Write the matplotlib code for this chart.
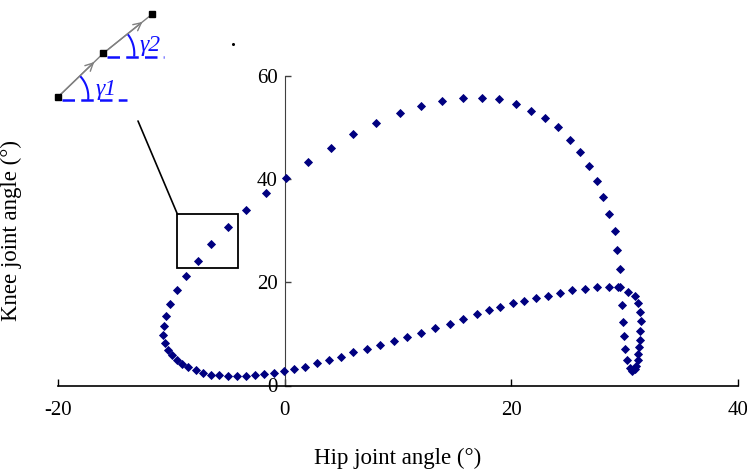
import numpy as np
import matplotlib
matplotlib.use("Agg")
import matplotlib.pyplot as plt
from matplotlib.patches import Rectangle, ConnectionPatch

plt.rcParams['font.family'] = ['Liberation Serif', 'DejaVu Serif']
plt.rcParams['axes.unicode_minus'] = False

# hip / knee joint angles over one gait cycle (deg)
hip_angle = [0.16, 2.09, 4.06, 6.05, 8.05, 10.16, 12.07, 13.88, 15.73, 17.41,
             18.91, 20.40, 21.74, 22.94, 24.08, 25.17, 26.05, 26.87, 27.55, 28.10,
             28.63, 29.13, 29.36, 29.57, 29.62, 29.77, 29.86, 29.92, 30.01, 30.24,
             30.45, 30.65, 30.87, 31.03, 31.18, 31.22, 31.29, 31.31, 31.35, 31.40,
             31.38, 31.22, 30.87, 30.30, 29.45, 28.58, 27.60, 26.49, 25.31, 24.26,
             23.26, 22.15, 21.13, 20.12, 19.04, 18.01, 16.93, 15.73, 14.56, 13.24,
             12.01, 10.80, 9.63, 8.43, 7.23, 6.05, 4.94, 3.91, 2.88, 1.83,
             0.85, -0.04, -0.92, -1.80, -2.66, -3.41, -4.24, -5.00, -5.82, -6.49,
             -7.23, -7.81, -8.49, -9.04, -9.48, -9.96, -10.33, -10.60, -10.71, -10.69,
             -10.51, -10.10, -9.48, -8.69, -7.67, -6.49, -4.97, -3.41, -1.63]
knee_angle = [40.31, 43.36, 46.07, 48.73, 50.92, 52.92, 54.16, 55.25, 55.77, 55.77,
              55.52, 54.61, 53.31, 51.89, 50.09, 47.68, 45.30, 42.64, 39.67, 36.62,
              33.21, 29.91, 26.34, 22.66, 19.11, 15.62, 12.38, 9.51, 7.08, 4.95,
              3.34, 2.81, 3.20, 3.78, 4.85, 6.11, 7.47, 8.83, 10.57, 12.42,
              14.26, 15.95, 17.30, 18.20, 19.00, 19.11, 19.11, 18.78, 18.47, 17.89,
              17.42, 16.92, 16.45, 15.95, 15.23, 14.59, 13.81, 12.96, 11.99, 11.15,
              10.13, 9.35, 8.57, 7.91, 7.14, 6.50, 5.59, 4.95, 4.31, 3.65,
              3.20, 2.87, 2.39, 2.23, 2.04, 1.88, 1.84, 1.88, 2.00, 2.13,
              2.46, 2.95, 3.49, 4.17, 4.91, 5.96, 6.89, 8.19, 9.76, 11.54,
              13.44, 15.77, 18.47, 21.18, 24.15, 27.39, 30.69, 33.99, 37.28]

x_ticks = [-20, 0, 20, 40]
y_ticks = [0, 20, 40, 60]

# highlighted segment of the curve (deg)
zoom_box = (-9.46, 22.7, 5.36, 10.5)


def draw_segment_sketch(ov):
    """Little sketch of two linked segments and their angles, in pixel units."""
    blue = '#1010ff'
    pts = [(58.3, 96.7), (103.3, 53.3), (152.3, 14.0)]
    for (x0, y0), (x1, y1) in zip(pts[:-1], pts[1:]):
        ov.plot([x0, x1], [y0, y1], color='#808080', lw=1.0)
        f = 0.8
        ov.annotate('', xy=(x0 + f * (x1 - x0), y0 + f * (y1 - y0)), xytext=(x0, y0),
                    arrowprops=dict(arrowstyle='->', color='#808080', lw=1.0,
                                    shrinkA=0, shrinkB=0, mutation_scale=14))
    xs, ys = zip(*pts)
    ov.plot(xs, ys, 's', color='black', ms=5, zorder=5)

    # reference lines
    ov.plot([62, 127], [99.5, 99.5], color=blue, lw=1.8, dashes=(5, 2.5))
    ov.plot([107, 164], [56.5, 56.5], color=blue, lw=1.8, dashes=(5, 2.5))

    # angle arcs
    for (cx, cy), r, a in [(pts[0], 30, 42), (pts[1], 31, 36)]:
        t = np.radians(np.linspace(-4, a, 30))
        ov.plot(cx + r * np.cos(t), cy - r * np.sin(t), color=blue, lw=1.5)

    ov.text(96, 89, 'γ1', color=blue, fontsize=17, style='italic', va='center')
    ov.text(140, 45, 'γ2', color=blue, fontsize=17, style='italic', va='center')
    ov.plot([233], [43.5], 'o', color='black', ms=1.2)


def main():
    fig = plt.figure(figsize=(7.47, 4.72), dpi=100)
    ax = fig.add_axes([58 / 747, (472 - 385.5) / 472, 680 / 747, 309.5 / 472])

    ax.plot(hip_angle, knee_angle, 'D', color='#000080', ms=4, mew=0.6,
            linestyle='none', zorder=3)

    ax.set_xlim(-20, 40)
    ax.set_ylim(0, 60)
    ax.set_xticks(x_ticks)
    ax.set_yticks(y_ticks)
    ax.spines['top'].set_visible(False)
    ax.spines['right'].set_visible(False)
    ax.spines['left'].set_position(('data', 0))
    ax.spines['left'].set_color('#404040')
    ax.spines['bottom'].set_linewidth(1.2)
    ax.tick_params(axis='x', direction='in', length=5, width=1, pad=11, labelsize=15)
    ax.tick_params(axis='y', direction='in', length=4.5, width=1, pad=5, labelsize=15,
                   color='#404040')

    ax.set_xlabel('Hip joint angle (°)', fontsize=16.5)
    ax.set_ylabel('Knee joint angle (°)', fontsize=16.5)
    ax.xaxis.set_label_coords(0.5, -0.2)
    ax.yaxis.set_label_coords(-0.053, 0.5)

    bx, by, bw, bh = zoom_box
    ax.add_patch(Rectangle((bx, by), bw, bh, fill=False, ec='black', lw=1.3, zorder=4))

    # overlay in figure pixels for the sketch
    ov = fig.add_axes([0, 0, 1, 1])
    ov.set_xlim(0, 747)
    ov.set_ylim(472, 0)
    ov.axis('off')
    draw_segment_sketch(ov)

    con = ConnectionPatch(xyA=(138, 121), coordsA=ov.transData,
                          xyB=(bx, by + bh), coordsB=ax.transData,
                          color='black', lw=1.2)
    fig.add_artist(con)

    fig.savefig('out.png', dpi=100)


if __name__ == '__main__':
    main()
